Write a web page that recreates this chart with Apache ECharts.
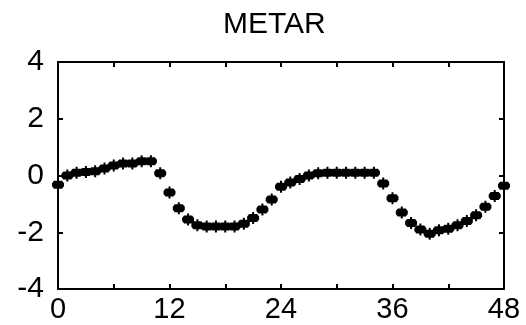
<!DOCTYPE html>
<html>
<head>
<meta charset="utf-8">
<script src="https://cdn.jsdelivr.net/npm/echarts@6/dist/echarts.min.js"></script>
<style>
html,body{margin:0;padding:0;background:#fff;}
#chart{width:526px;height:325px;}
</style>
</head>
<body>
<div id="chart"></div>
<script>
const titleText = 'METAR';
const hours = [0,1,2,3,4,5,6,7,8,9,10,11,12,13,14,15,16,17,18,19,20,21,22,23,24,25,26,27,28,29,30,31,32,33,34,35,36,37,38,39,40,41,42,43,44,45,46,47,48];
const values = [-0.33,0.0,0.1,0.12,0.15,0.25,0.35,0.42,0.42,0.5,0.5,0.08,-0.6,-1.15,-1.55,-1.75,-1.8,-1.8,-1.8,-1.8,-1.7,-1.5,-1.2,-0.85,-0.4,-0.25,-0.12,0.0,0.08,0.1,0.1,0.1,0.1,0.1,0.1,-0.28,-0.8,-1.3,-1.67,-1.9,-2.05,-1.93,-1.88,-1.75,-1.6,-1.4,-1.1,-0.72,-0.36];
const xTicks = [0,12,24,36,48];
const yTicks = [-4,-2,0,2,4];

const pts = hours.map((h,i)=>[h, values[i]]);
const marker = 'path://M5,0 L7,0 L7,2 L10,2 L12,4.5 L12,7.5 L10,10 L7,10 L7,12 L5,12 L5,10 L2,10 L0,7.5 L0,4.5 L2,2 L5,2 Z';

const axisLine = {show:true, onZero:false, lineStyle:{color:'#000', width:2}};
const tick = {show:true, inside:true, length:5, lineStyle:{color:'#000', width:2}};
const chart = echarts.init(document.getElementById('chart'));
chart.setOption({
  animation:false,
  backgroundColor:'#fff',
  title:{text:titleText, left:218, top:5, textStyle:{fontFamily:'Liberation Sans', fontSize:30, fontWeight:'normal', color:'#000'}},
  grid:{left:58, right:22, top:62, bottom:36},
  xAxis:[
    {type:'value', position:'bottom', min:0, max:48, interval:6,
     axisLine, axisTick:tick, splitLine:{show:false},
     axisLabel:{margin:6, fontFamily:'Liberation Sans', fontSize:29, color:'#000',
       formatter:v=> xTicks.includes(v) ? String(v) : ''}},
    {type:'value', position:'top', min:0, max:48, interval:6,
     axisLine, axisTick:tick, splitLine:{show:false}, axisLabel:{show:false}}
  ],
  yAxis:[
    {type:'value', position:'left', min:-4, max:4, interval:2,
     axisLine, axisTick:tick, splitLine:{show:false},
     axisLabel:{margin:14, fontFamily:'Liberation Sans', fontSize:30, color:'#000',
       formatter:v=> yTicks.includes(v) ? String(v) : ''}},
    {type:'value', position:'right', min:-4, max:4, interval:2,
     axisLine, axisTick:tick, splitLine:{show:false}, axisLabel:{show:false}}
  ],
  series:[{
    type:'scatter', xAxisIndex:0, yAxisIndex:0, data:pts,
    symbol:marker, symbolSize:[12,12],
    itemStyle:{color:'#000', opacity:1}
  }]
});
</script>
</body>
</html>
